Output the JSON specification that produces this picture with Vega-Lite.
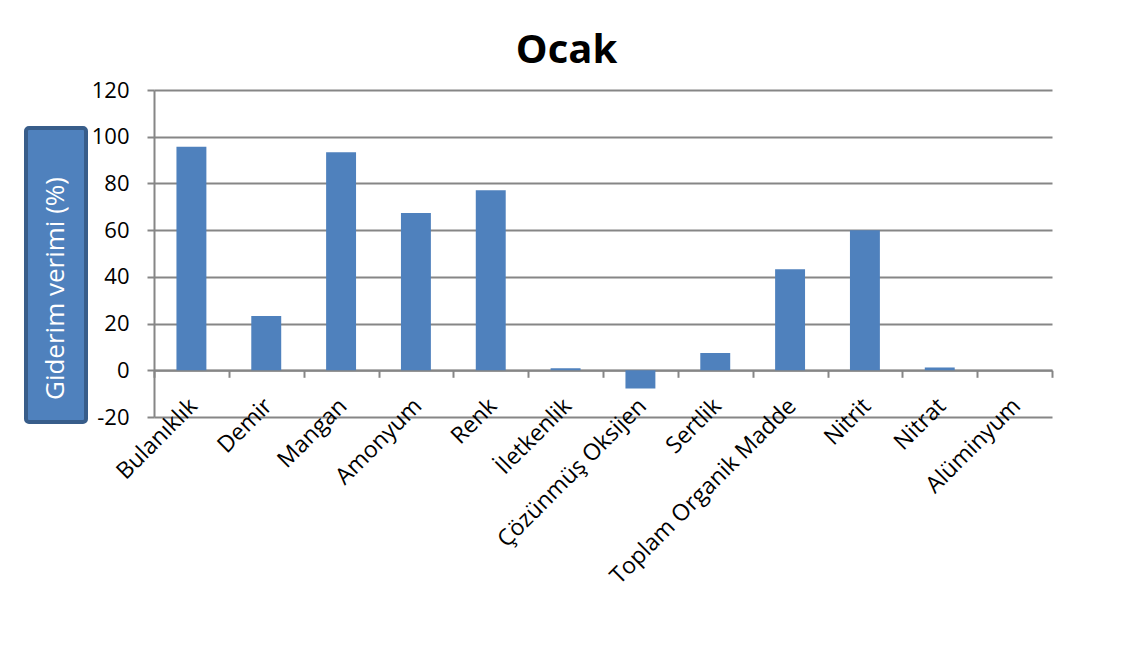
{
  "$schema": "https://vega.github.io/schema/vega-lite/v6.json",
  "background": "white",
  "padding": {"left": 24, "top": 31, "right": 10, "bottom": 10},
  "title": {
    "text": "Ocak",
    "font": "Open Sans",
    "fontSize": 40,
    "fontWeight": "bold",
    "color": "black",
    "anchor": "middle",
    "dx": 28,
    "offset": 8
  },
  "config": {
    "view": {"stroke": null},
    "font": "Open Sans"
  },
  "datasets": {
    "verim": [
      {"parametre": "Bulanıklık", "verim": 95.7},
      {"parametre": "Demir", "verim": 23.2},
      {"parametre": "Mangan", "verim": 93.3},
      {"parametre": "Amonyum", "verim": 67.3},
      {"parametre": "Renk", "verim": 77.1},
      {"parametre": "İletkenlik", "verim": 0.9},
      {"parametre": "Çözünmüş Oksijen", "verim": -7.8},
      {"parametre": "Sertlik", "verim": 7.4},
      {"parametre": "Toplam Organik Madde", "verim": 43.3},
      {"parametre": "Nitrit", "verim": 60},
      {"parametre": "Nitrat", "verim": 1.2},
      {"parametre": "Alüminyum", "verim": 0}
    ],
    "eksen": [
      {"baslik": "Giderim verimi (%)", "ust": 103.7, "alt": -22.1, "orta": 35}
    ]
  },
  "spacing": 68,
  "bounds": "flush",
  "hconcat": [
    {
      "width": 60,
      "height": 327,
      "data": {"name": "eksen"},
      "layer": [
        {
          "mark": {"type": "rect", "fill": "#4F81BD", "stroke": "#385D8A", "strokeWidth": 4, "cornerRadius": 3},
          "encoding": {
            "y": {"field": "ust", "type": "quantitative", "scale": {"domain": [-20, 120], "nice": false, "zero": false}, "axis": null},
            "y2": {"field": "alt"}
          }
        },
        {
          "mark": {"type": "text", "angle": 270, "align": "center", "baseline": "middle", "color": "white", "fontSize": 26, "font": "Open Sans"},
          "encoding": {
            "y": {"field": "orta", "type": "quantitative", "scale": {"domain": [-20, 120], "nice": false, "zero": false}, "axis": null},
            "text": {"field": "baslik"}
          }
        }
      ]
    },
    {
      "width": 898,
      "height": 327,
      "data": {"name": "verim"},
      "mark": {"type": "bar", "color": "#4F81BD", "width": {"band": 0.4}},
      "encoding": {
        "x": {
          "field": "parametre",
          "type": "nominal",
          "sort": null,
          "scale": {"paddingInner": 0, "paddingOuter": 0},
          "axis": {
            "title": null,
            "offset": -46.7,
            "tickBand": "extent",
            "domainColor": "#868686",
            "domainWidth": 2,
            "tickColor": "#868686",
            "tickWidth": 2,
            "tickSize": 7,
            "labelAngle": -45,
            "labelAlign": "right",
            "labelBaseline": "top",
            "labelPadding": 17,
            "labelOffset": -6,
            "labelFontSize": 23,
            "labelColor": "black",
            "labelFont": "Open Sans",
            "labelLimit": 400,
            "grid": false
          }
        },
        "y": {
          "field": "verim",
          "type": "quantitative",
          "scale": {"domain": [-20, 120], "nice": false, "zero": false},
          "axis": {
            "title": null,
            "values": [-20, 0, 20, 40, 60, 80, 100, 120],
            "labelExpr": "replace(datum.label, '−', '-')",
            "grid": true,
            "gridColor": "#868686",
            "gridWidth": 2,
            "domainColor": "#868686",
            "domainWidth": 2,
            "tickColor": "#868686",
            "tickWidth": 2,
            "tickSize": 7,
            "labelPadding": 18,
            "labelFontSize": 22,
            "labelColor": "black",
            "labelFont": "Open Sans"
          }
        }
      }
    }
  ]
}
